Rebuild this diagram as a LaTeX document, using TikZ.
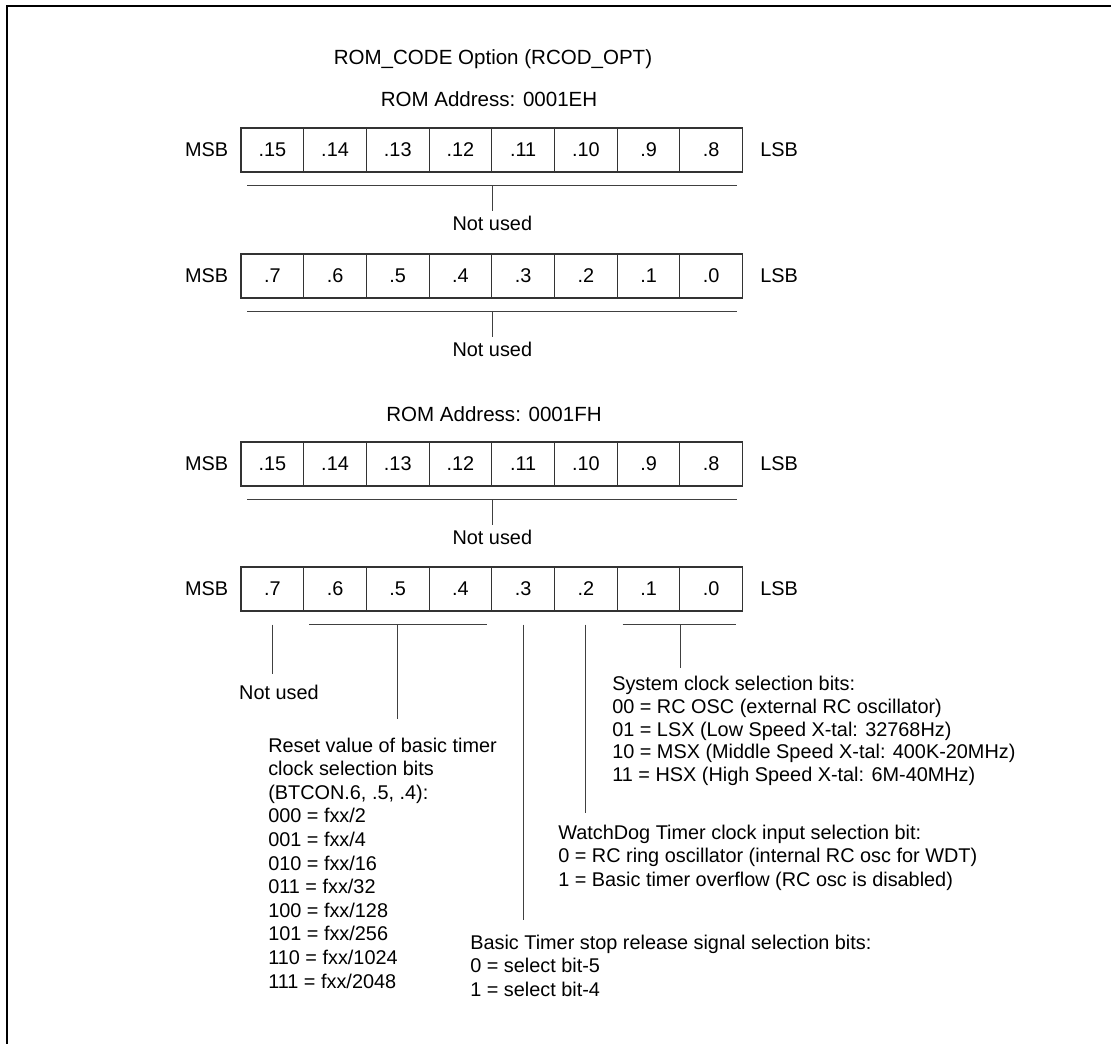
\documentclass[tikz,border=0pt]{standalone}
\usepackage{fontspec}
\setmainfont{Liberation Sans}
\usetikzlibrary{calc}
\begin{document}
\begin{tikzpicture}[x=0.75pt,y=-0.75pt,
  lbl/.style={font=\fontsize{14.9}{17}\selectfont, inner sep=0pt, text=black},
  hdr/.style={font=\fontsize{15.4}{18}\selectfont, inner sep=0pt, text=black},
  bitcell/.style={draw=black!80, line width=0.8pt, minimum width=47.03pt, minimum height=33pt, inner sep=0pt, font=\fontsize{14.9}{17}\selectfont},
  conn/.style={draw=black!75, line width=0.8pt},
  frameline/.style={draw=black, line width=1.6pt}]
\useasboundingbox (0,0) rectangle (1111,1044);
\clip (0,0) rectangle (1111,1044);
\draw[frameline] (7,6) rectangle (1130,1070);

% headers
\node[hdr, anchor=base] (title) at (493,65) {ROM\_CODE Option (RCOD\_OPT)};
\node[hdr, anchor=base] (romEH) at (489,107) {ROM Address: 0001EH};
\node[hdr, anchor=base] (romFH) at (494,422) {ROM Address: 0001FH};

% rows of bit cells
\foreach \lab [count=\i from 0] in {.15,.14,.13,.12,.11,.10,.9,.8}
  \node[bitcell] (a\i) at ({241+62.7*(\i+0.5)},150) {\lab};
\foreach \lab [count=\i from 0] in {.7,.6,.5,.4,.3,.2,.1,.0}
  \node[bitcell] (b\i) at ({241+62.7*(\i+0.5)},276) {\lab};
\foreach \lab [count=\i from 0] in {.15,.14,.13,.12,.11,.10,.9,.8}
  \node[bitcell] (c\i) at ({241+62.7*(\i+0.5)},464) {\lab};
\foreach \lab [count=\i from 0] in {.7,.6,.5,.4,.3,.2,.1,.0}
  \node[bitcell] (d\i) at ({241+62.7*(\i+0.5)},589) {\lab};

% MSB / LSB labels
\foreach \r in {a,b,c,d}{
  \node[lbl, anchor=east] (msb\r) at ($(\r0.west)+(-12,0)$) {MSB};
  \node[lbl, anchor=west] (lsb\r) at ($(\r7.east)+(17,0)$) {LSB};
}

% "Not used" for full rows a, b, c
\foreach \r in {a,b,c}{
  \coordinate (\r L) at ($(\r0.south west)+(7,13)$);
  \coordinate (\r R) at ($(\r7.south east)+(-6,13)$);
  \coordinate (\r T) at ($(\r3.south east)+(0,13)$);
  \coordinate (\r E) at ($(\r3.south east)+(0,38)$);
  \draw[conn] (\r L) -- (\r R);
  \draw[conn] (\r T) -- (\r E);
  \node[lbl, anchor=base] (nu\r) at ($(\r3.south east)+(0,58)$) {Not used};
}

% row d: bit .7
\coordinate (d7s) at ($(d0.south)+(0,13)$);
\coordinate (d7e) at ($(d0.south)+(0,62)$);
\draw[conn] (d7s) -- (d7e);
\node[lbl, anchor=base] (nud) at (279,700) {Not used};

% row d: bits .6-.4
\coordinate (btL) at ($(d1.south west)+(6,13)$);
\coordinate (btR) at ($(d3.south east)+(-5,13)$);
\coordinate (btT) at ($(d2.south)+(0,13)$);
\coordinate (btE) at ($(d2.south)+(0,107)$);
\draw[conn] (btL) -- (btR);
\draw[conn] (btT) -- (btE);
\foreach \t [count=\k from 0] in {Reset value of basic timer,clock selection bits,{(BTCON.6, .5, .4):},000 = fxx/2,001 = fxx/4,010 = fxx/16,011 = fxx/32,100 = fxx/128,101 = fxx/256,110 = fxx/1024,111 = fxx/2048}
  \node[lbl, anchor=base west] (rs\k) at (268,{752+23.6*\k}) {\t};

% row d: bit .3
\coordinate (b3s) at ($(d4.south)+(0,13)$);
\coordinate (b3e) at ($(d4.south)+(0,308)$);
\draw[conn] (b3s) -- (b3e);
\node[lbl, anchor=base west] (bs0) at (470,949) {Basic Timer stop release signal selection bits:};
\node[lbl, anchor=base west] (bs1) at (470,972.5) {0 = select bit-5};
\node[lbl, anchor=base west] (bs2) at (470,996) {1 = select bit-4};

% row d: bit .2
\coordinate (b2s) at ($(d5.south)+(0,13)$);
\coordinate (b2e) at ($(d5.south)+(0,201)$);
\draw[conn] (b2s) -- (b2e);
\node[lbl, anchor=base west] (wd0) at (558,839) {WatchDog Timer clock input selection bit:};
\node[lbl, anchor=base west] (wd1) at (558,862.5) {0 = RC ring oscillator (internal RC osc for WDT)};
\node[lbl, anchor=base west] (wd2) at (558,886) {1 = Basic timer overflow (RC osc is disabled)};

% row d: bits .1-.0
\coordinate (scL) at ($(d6.south west)+(6,13)$);
\coordinate (scR) at ($(d7.south east)+(-7,13)$);
\coordinate (scT) at ($(d6.south east)+(0,13)$);
\coordinate (scE) at ($(d6.south east)+(0,56)$);
\draw[conn] (scL) -- (scR);
\draw[conn] (scT) -- (scE);
\foreach \t [count=\k from 0] in {System clock selection bits:,00 = RC OSC (external RC oscillator),{01 = LSX (Low Speed X-tal: 32768Hz)},{10 = MSX (Middle Speed X-tal: 400K-20MHz)},{11 = HSX (High Speed X-tal: 6M-40MHz)}}
  \node[lbl, anchor=base west] (sc\k) at (612,{691+22.6*\k}) {\t};
\end{tikzpicture}
\end{document}
